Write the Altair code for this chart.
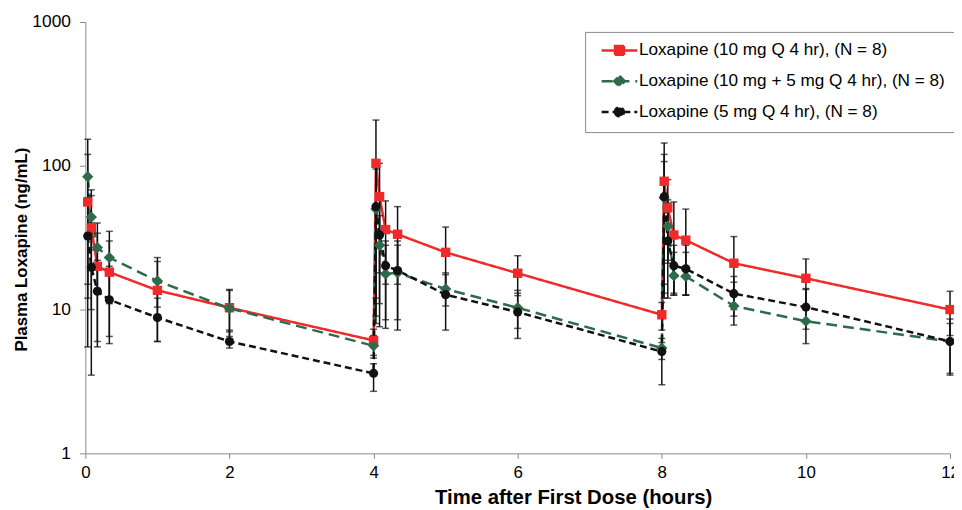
import altair as alt
import pandas as pd

# ---- data ----
times = [0.033, 0.083, 0.167, 0.333, 1, 2, 4,
         4.033, 4.083, 4.167, 4.333, 5, 6, 8,
         8.033, 8.083, 8.167, 8.333, 9, 10, 12]

series_names = [
    "Loxapine (10 mg Q 4 hr), (N = 8)",
    "Loxapine (10 mg + 5 mg Q 4 hr), (N = 8)",
    "Loxapine (5 mg Q 4 hr), (N = 8)",
]

red_mean = [56, 37, 20, 18.2, 13.6, 10.3, 6.1,
            104, 61, 36, 33.4, 25, 17.9, 9.2,
            78, 51, 33, 30.4, 21.0, 16.5, 10.0]
red_hi = [120, 68, 34, 30, 21.6, 13.8, 7.3,
          208, 104, 57, 52, 37.5, 23.7, 11.2,
          144, 80, 56, 50, 32.2, 22.5, 13.4]
red_lo = [12, 10, 6, 6.5, 6.0, 7.0, 4.8,
          12, 18, 15, 15, 12.5, 12.5, 7.2,
          15, 22, 13, 12.6, 10, 10.5, 6.6]

green_mean = [84, 44, 27, 23, 15.8, 10.2, 5.6,
              50, 28, 17.7, 18, 13.9, 10.3, 5.4,
              60, 38, 17.2, 17, 10.6, 8.3, 6.0]
green_hi = [153, 62, 40, 35, 23, 13.6, 6.6,
            95, 45, 28, 28, 18, 13.6, 6.3,
            107, 55, 25, 25, 15.5, 13.8, 8.6]
green_lo = [15, 26, 14, 11, 10.4, 6.5, 4.6,
            8, 11, 8.5, 8.5, 10.6, 7.4, 4.5,
            13, 21, 12.6, 12.6, 7.8, 5.8, 3.5]

black_mean = [32.5, 19.7, 13.4, 11.7, 8.8, 6.0, 3.6,
              52, 33, 20.2, 18.7, 12.7, 9.6, 5.1,
              61, 30, 20.2, 19.2, 12.9, 10.4, 6.0]
black_hi = [60, 40, 22, 20, 12, 7.2, 4.2,
            104, 60, 30, 30, 17.5, 13, 5.9,
            120, 58, 28, 28, 17, 14, 8]
black_lo = [5.5, 3.5, 5.5, 5.8, 6.0, 5.4, 2.7,
            9, 7.6, 7.4, 7.2, 7.2, 6.3, 3.0,
            12, 12, 12.6, 12.6, 9, 7.3, 3.6]

x_ticks = [0, 2, 4, 6, 8, 10, 12]
y_ticks = [1, 10, 100, 1000]

# ---- styling ----
colors = ["#EE2A2A", "#2E6B4B", "#111111"]
dashes = [[1, 0], [11, 6], [7, 4]]
point_shapes = ["square", "diamond", "circle"]
point_sizes = [90, 130, 85]
legend_paths = [
    "M-3,0L3,0M-0.75,-0.75L0.75,-0.75L0.75,0.75L-0.75,0.75Z",
    "M-3,0L3,0M0,-0.9L0.9,0L0,0.9L-0.9,0Z",
    "M-3,0L3,0M-0.75,0A0.75,0.75,0,1,0,0.75,0A0.75,0.75,0,1,0,-0.75,0Z",
]
FONT = "Liberation Sans"

rows = []
for name, m, lo, hi in zip(series_names,
                           [red_mean, green_mean, black_mean],
                           [red_lo, green_lo, black_lo],
                           [red_hi, green_hi, black_hi]):
    for t, v, l, h in zip(times, m, lo, hi):
        rows.append({"series": name, "t": t, "v": v, "lo": l, "hi": h})
df = pd.DataFrame(rows)

x_scale = alt.Scale(domain=[0, 12], nice=False, zero=False)
y_scale = alt.Scale(type="log", domain=[1, 1000], nice=False)

x_axis = alt.Axis(values=x_ticks, format="d", grid=False, domainColor="#8a8a8a",
                  tickColor="#8a8a8a", tickSize=5, labelFontSize=17, labelFont=FONT,
                  labelColor="black", labelPadding=6, labelFlush=False,
                  title="Time after First Dose (hours)", titleFont=FONT,
                  titleFontSize=20.5, titleFontWeight="bold", titleColor="black",
                  titleX=492, titleY=35, titleAlign="center", titleBaseline="top")
y_axis = alt.Axis(values=y_ticks, format="d", grid=False, domainColor="#8a8a8a",
                  tickColor="#8a8a8a", tickSize=6, labelFontSize=17.5, labelFont=FONT,
                  labelColor="black", labelPadding=9,
                  title="Plasma Loxapine (ng/mL)", titleFont=FONT, titleFontSize=17,
                  titleFontWeight="bold", titleColor="black", titleX=-64, titleY=229,
                  titleAngle=270, titleAlign="center", titleBaseline="middle")

X = alt.X("t:Q", scale=x_scale, axis=x_axis)
Y = alt.Y("v:Q", scale=y_scale, axis=y_axis)

color_scale = alt.Scale(domain=series_names, range=colors)
dash_scale = alt.Scale(domain=series_names, range=dashes)
shape_scale = alt.Scale(domain=series_names, range=legend_paths)

base = alt.Chart(df)

legend = alt.Legend(title=None, orient="none", legendX=504, legendY=10,
                    labelFont=FONT, labelFontSize=17.3, labelColor="black",
                    symbolSize=144, symbolStrokeWidth=2.5, symbolOffset=16,
                    labelOffset=11, padding=10, rowPadding=10,
                    strokeColor="#8a8a8a", fillColor="white", symbolOpacity=1,
                    labelLimit=400)

# legend-only layer (draws no data marks)
legend_layer = base.transform_filter("false").mark_point(filled=True, strokeWidth=2.5).encode(
    x=X, y=Y,
    fill=alt.Fill("series:N", scale=color_scale, legend=legend),
    stroke=alt.Stroke("series:N", scale=color_scale, legend=legend),
    shape=alt.Shape("series:N", scale=shape_scale, legend=legend),
    strokeDash=alt.StrokeDash("series:N", scale=dash_scale, legend=legend),
)

line_layers = []
for name, col, dsh in zip(series_names, colors, dashes):
    line_layers.append(
        base.transform_filter(alt.datum.series == name)
        .mark_line(strokeWidth=2.5, color=col, strokeDash=dsh)
        .encode(x=X, y=Y)
    )

err_rule = base.mark_rule(color="#111111", strokeWidth=1.5).encode(
    x="t:Q", y=alt.Y("lo:Q", scale=y_scale), y2="hi:Q")
cap_hi = base.mark_tick(color="#111111", orient="horizontal", size=7, thickness=1.5).encode(
    x="t:Q", y=alt.Y("hi:Q", scale=y_scale))
cap_lo = base.mark_tick(color="#111111", orient="horizontal", size=7, thickness=1.5).encode(
    x="t:Q", y=alt.Y("lo:Q", scale=y_scale))

point_layers = []
for name, col, shp, sz in zip(series_names, colors, point_shapes, point_sizes):
    point_layers.append(
        base.transform_filter(alt.datum.series == name)
        .mark_point(filled=True, shape=shp, size=sz, opacity=1, color=col)
        .encode(x=X, y=Y)
    )

chart = alt.layer(legend_layer, *line_layers, err_rule, cap_hi, cap_lo, *point_layers).properties(
    width=872, height=435,
    autosize=alt.AutoSizeParams(type="none"),
    padding={"left": 78, "top": 12, "right": 4, "bottom": 55},
    background="white",
).configure_view(strokeWidth=0)

chart.save("out.html", embed_options={"renderer": "svg", "actions": False})
